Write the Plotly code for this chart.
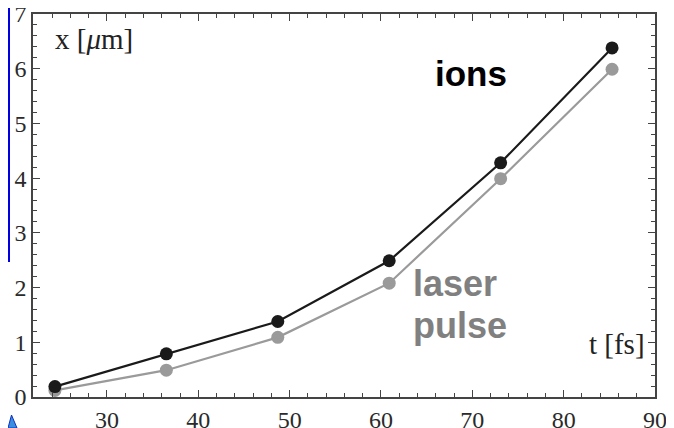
import plotly.graph_objects as go

t_fs = [24.3, 36.5, 48.7, 60.9, 73.1, 85.3]
x_ions = [0.19, 0.79, 1.38, 2.49, 4.28, 6.38]
x_laser = [0.12, 0.49, 1.09, 2.08, 3.99, 5.99]

# page has an 8px body margin; figure is sized so its right/bottom edges meet the window
OFF = 8
W, H = 674 - OFF, 428 - OFF
# plot area in window pixels: left 33, right 655, top 14, bottom 397
L_PX, R_PX, T_PX, B_PX = 33, 655, 14, 397
ML, MR, MT, MB = L_PX - OFF, (674 - R_PX), T_PX - OFF, (428 - B_PX)
pw, ph = R_PX - L_PX, B_PX - T_PX

def px(xp):
    return (xp - L_PX) / pw

def py(yp):
    return (B_PX - yp) / ph

fig = go.Figure()
fig.add_trace(go.Scatter(x=t_fs, y=x_laser, mode="lines+markers",
                         line=dict(color="#9a9a9a", width=2.2),
                         marker=dict(color="#9a9a9a", size=13), showlegend=False))
fig.add_trace(go.Scatter(x=t_fs, y=x_ions, mode="lines+markers",
                         line=dict(color="#1a1a1a", width=2.2),
                         marker=dict(color="#1a1a1a", size=13), showlegend=False))

tick_font = dict(family="Liberation Serif", size=24, color="#2a2a2a")

fig.update_xaxes(range=[21.9, 90], tick0=0, dtick=10, automargin=False,
                 showline=True, linecolor="#444", linewidth=1.5, mirror="allticks",
                 ticks="inside", ticklen=7, tickwidth=1.2, tickcolor="#444",
                 showgrid=False, zeroline=False, tickfont=tick_font,
                 ticklabeloverflow="allow",
                 minor=dict(dtick=2, ticks="inside", ticklen=4, tickcolor="#444", showgrid=False))
fig.update_yaxes(range=[0, 7], tick0=0, dtick=1, automargin=False,
                 showline=True, linecolor="#444", linewidth=1.5, mirror="allticks",
                 ticks="inside", ticklen=7, tickwidth=1.2, tickcolor="#444",
                 showgrid=False, zeroline=False, tickfont=tick_font,
                 ticklabeloverflow="allow",
                 minor=dict(dtick=0.2, ticks="inside", ticklen=4, tickcolor="#444", showgrid=False))

serif = dict(family="Liberation Serif", size=29, color="#222")
sans_b = "Liberation Sans"
fig.add_annotation(text="x [<i>μ</i>m]", xref="paper", yref="paper", x=px(53), y=py(39),
                   xanchor="left", yanchor="middle", showarrow=False, font=serif)
fig.add_annotation(text="t [fs]", xref="paper", yref="paper", x=px(647), y=py(344),
                   xanchor="right", yanchor="middle", showarrow=False, font=serif)
fig.add_annotation(text="<b>ions</b>", xref="paper", yref="paper", x=px(433), y=py(73),
                   xanchor="left", yanchor="middle", showarrow=False,
                   font=dict(family=sans_b, size=35, color="#000"))
fig.add_annotation(text="<b>laser</b>", xref="paper", yref="paper", x=px(411), y=py(283),
                   xanchor="left", yanchor="middle", showarrow=False,
                   font=dict(family=sans_b, size=36, color="#808080"))
fig.add_annotation(text="<b>pulse</b>", xref="paper", yref="paper", x=px(411), y=py(325),
                   xanchor="left", yanchor="middle", showarrow=False,
                   font=dict(family=sans_b, size=36, color="#808080"))

# slide artifacts at the left edge (as close to the edge as the page allows)
fig.add_shape(type="rect", xref="paper", yref="paper", x0=px(OFF), x1=px(OFF + 2),
              y0=py(262), y1=py(OFF), fillcolor="#0000e0", line=dict(width=0), layer="above")
fig.add_shape(type="path", xref="paper", yref="paper",
              path=f"M {px(OFF)} {py(428)} L {px(OFF + 3.5)} {py(415)} L {px(OFF + 9)} {py(428)} Z",
              fillcolor="#3a8ee0", line=dict(color="#1030c0", width=1), layer="above")

fig.update_layout(width=W, height=H, margin=dict(l=ML, r=MR, t=MT, b=MB, autoexpand=False),
                  plot_bgcolor="white", paper_bgcolor="white",
                  font=dict(family="Liberation Serif"))
fig.write_html("out.html")
